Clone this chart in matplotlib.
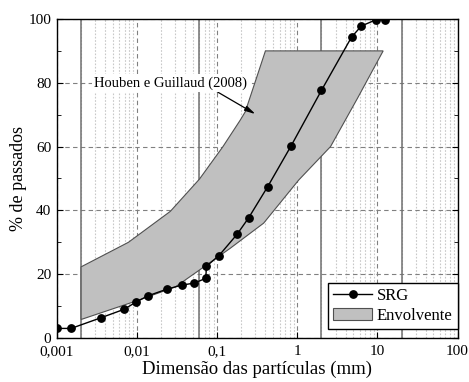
import matplotlib
matplotlib.use('Agg')
import matplotlib.pyplot as plt
from matplotlib.ticker import FixedLocator, MultipleLocator, NullFormatter

plt.rcParams['font.family'] = ['Liberation Serif', 'DejaVu Serif']

# SRG grading curve
srg_d = [0.001, 0.0015, 0.0035, 0.0069, 0.0096, 0.0136, 0.0235, 0.0365, 0.0516,
         0.072, 0.0735, 0.105, 0.177, 0.246, 0.426, 0.84, 2.0, 4.75, 6.3, 9.5, 12.5]
srg_p = [3.0, 3.0, 6.3, 9.0, 11.2, 13.2, 15.3, 16.6, 17.2,
         18.7, 22.5, 25.8, 32.5, 37.6, 47.4, 60.3, 77.6, 94.3, 97.8, 99.7, 99.8]

# envelope (Houben e Guillaud 2008)
upper_d = [0.002, 0.0078, 0.026, 0.06, 0.118, 0.194, 0.224, 0.313, 0.40, 11.8]
upper_p = [22.3, 30.0, 39.7, 49.8, 60.0, 68.3, 70.9, 81.9, 90.0, 90.0]
lower_d = [0.002, 0.01, 0.03, 0.06, 0.145, 0.38, 1.04, 2.6, 5.6, 11.8]
lower_p = [5.8, 11.7, 16.0, 21.3, 28.1, 36.0, 49.5, 60.0, 75.0, 90.0]

# soil fraction limits (mm)
limits = [0.002, 0.06, 2, 20]

xticks = [0.001, 0.01, 0.1, 1, 10, 100]
xtick_labels = ['0,001', '0,01', '0,1', '1', '10', '100']

fig = plt.figure(figsize=(4.69, 3.82), dpi=100)
ax = fig.add_axes([0.1215, 0.1152, 0.854, 0.8351])

env_x = upper_d + lower_d[::-1]
env_y = upper_p + lower_p[::-1]
env = ax.fill(env_x, env_y, facecolor='#c0c0c0', edgecolor='#505050', linewidth=0.8,
              label='Envolvente', zorder=2)[0]

for lim in limits:
    ax.axvline(lim, color='#707070', linewidth=1.1, zorder=1.5)

srg, = ax.plot(srg_d, srg_p, color='black', linewidth=1.0, marker='o', markersize=5.3,
               label='SRG', zorder=3)

ax.set_xscale('log')
ax.set_xlim(0.001, 100)
ax.set_ylim(0, 100)
ax.xaxis.set_major_locator(FixedLocator(xticks))
ax.set_xticklabels(xtick_labels)
ax.xaxis.set_minor_formatter(NullFormatter())
ax.yaxis.set_major_locator(MultipleLocator(20))
ax.yaxis.set_minor_locator(MultipleLocator(10))

ax.grid(True, which='major', color='#808080', linestyle=(0, (4, 3)), linewidth=0.8)
ax.grid(True, which='minor', axis='x', color='#c8c8c8', linestyle=(0, (1.5, 1.5)), linewidth=0.8)
ax.set_axisbelow(True)

ax.tick_params(which='both', direction='in', top=False, right=True, labelsize=11)
ax.tick_params(which='major', length=4, pad=4)
ax.tick_params(axis='x', which='major', pad=5)
ax.tick_params(which='minor', length=3)
ax.tick_params(axis='x', which='minor', length=0)
for s in ax.spines.values():
    s.set_linewidth(1.0)

ax.set_xlabel('Dimensão das partículas (mm)', fontsize=13.5, labelpad=2)
ax.set_ylabel('% de passados', fontsize=13, labelpad=1)

ax.annotate('Houben e Guillaud (2008)', xy=(0.3, 70.2), xytext=(0.0029, 80),
            fontsize=10.5, va='center', ha='left',
            bbox=dict(boxstyle='square,pad=0.15', facecolor='white', edgecolor='none'),
            arrowprops=dict(arrowstyle='-|>,head_length=0.6,head_width=0.15',
                            color='black', linewidth=0.9, shrinkA=0, shrinkB=0,
                            relpos=(0.78, 0.0)),
            zorder=4)

leg = ax.legend([srg, env], ['SRG', 'Envolvente'], loc='lower right',
                bbox_to_anchor=(1.0, 0.028), borderaxespad=0,
                fontsize=12, fancybox=False, edgecolor='black', framealpha=1,
                handlelength=2.3, handletextpad=0.3, borderpad=0.3, labelspacing=0.25)
leg.get_frame().set_linewidth(1.0)

fig.savefig('out.png', dpi=100)
